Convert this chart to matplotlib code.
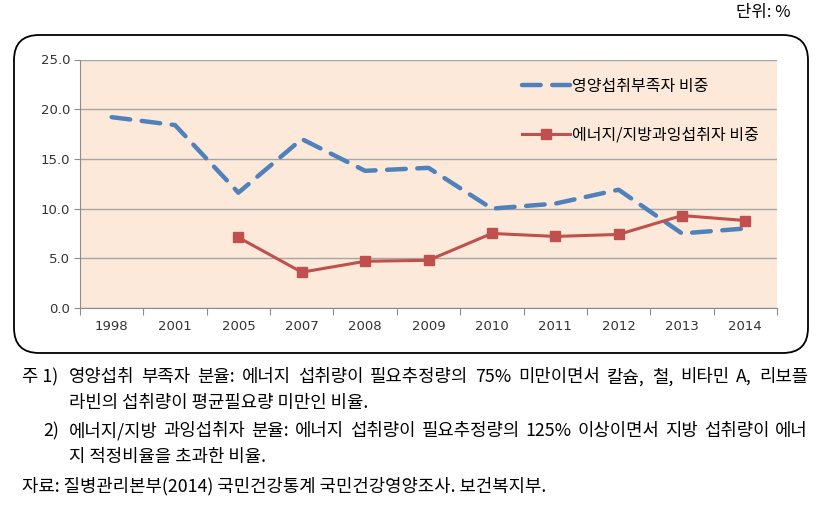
import matplotlib.pyplot as plt
import numpy as np
from matplotlib.patches import FancyBboxPatch

plt.rcParams['font.family'] = ['Noto Sans CJK KR', 'DejaVu Sans']

years = ['1998', '2001', '2005', '2007', '2008', '2009', '2010', '2011', '2012', '2013', '2014']
deficient = [19.2, 18.4, 11.6, 17.0, 13.8, 14.1, 10.0, 10.5, 11.9, 7.5, 8.0]
excess_years = ['2005', '2007', '2008', '2009', '2010', '2011', '2012', '2013', '2014']
excess = [7.1, 3.6, 4.7, 4.8, 7.5, 7.2, 7.4, 9.3, 8.8]
yticks = [0.0, 5.0, 10.0, 15.0, 20.0, 25.0]

label_def = '영양섭취부족자 비중'
label_exc = '에너지/지방과잉섭취자 비중'

# (prefix, prefix x, body, justify)
notes = [
    ('주 1)', 22, '영양섭취 부족자 분율: 에너지 섭취량이 필요추정량의 75% 미만이면서 칼슘, 철, 비타민 A, 리보플', True),
    ('', 22, '라빈의 섭취량이 평균필요량 미만인 비율.', False),
    ('2)', 43, '에너지/지방 과잉섭취자 분율: 에너지 섭취량이 필요추정량의 125% 이상이면서 지방 섭취량이 에너', True),
    ('', 22, '지 적정비율을 초과한 비율.', False),
]
source = '자료: 질병관리본부(2014) 국민건강통계 국민건강영양조사. 보건복지부.'

W, H = 838, 515
fig = plt.figure(figsize=(W / 100, H / 100), dpi=100)

# rounded frame around chart
box = FancyBboxPatch((14 / W, 1 - 353 / H), (808 - 14) / W, (353 - 35) / H,
                     boxstyle='round,pad=0,rounding_size=0.03',
                     transform=fig.transFigure, fc='none', ec='black', lw=1.3,
                     mutation_aspect=W / H, zorder=-1)
fig.patches.append(box)

ax = fig.add_axes([80 / W, 1 - 308 / H, (777 - 80) / W, (308 - 59.5) / H])
ax.set_facecolor('#FDE9D9')

x = np.arange(len(years))
xe = [years.index(y) for y in excess_years]

ax.plot(x, deficient, color='#4F81BD', lw=3.2, dashes=(4.2, 2.6),
        dash_capstyle='round', label=label_def, zorder=3)
ax.plot(xe, excess, color='#C0504D', lw=2.2, marker='s', ms=7.5,
        label=label_exc, zorder=4)

ax.set_xlim(-0.5, len(years) - 0.5)
ax.set_ylim(0, 25)
ax.set_yticks(yticks)
ax.set_yticklabels([f'{v:.1f}' for v in yticks], fontsize=9.5, color='#333333',
                   family=['DejaVu Sans'])
ax.yaxis.grid(True, color='#A6A6A6', lw=1)
ax.set_axisbelow(True)

ax.set_xticks(np.arange(-0.5, len(years), 1.0))
ax.set_xticklabels([])
ax.set_xticks(x, minor=True)
ax.set_xticklabels(years, minor=True, fontsize=9.5, color='#333333',
                   family=['DejaVu Sans'])
ax.tick_params(axis='x', which='major', length=5, color='#8C8C8C')
ax.tick_params(axis='x', which='minor', length=0, pad=9)
ax.tick_params(axis='y', length=4, color='#8C8C8C', pad=3)

for s in ['top', 'right']:
    ax.spines[s].set_visible(False)
for s in ['left', 'bottom']:
    ax.spines[s].set_color('#8C8C8C')

ax.legend(loc='upper right', bbox_to_anchor=(0.995, 0.985), frameon=False,
          fontsize=11.5, labelspacing=2.0, handlelength=3.0, handletextpad=0.15)

fig.text(790 / W, 1 - 12 / H, '단위: %', fontsize=12, ha='right', va='center')

# footnotes, justified like the original
fs = 12.8
renderer = fig.canvas.get_renderer()
ys = [377, 403, 431, 457, 486]
body_x0, body_x1 = 69, 808
for (pre, px, body, just), yy in zip(notes, ys):
    yf = 1 - yy / H
    if pre:
        fig.text(px / W, yf, pre, fontsize=fs, ha='left', va='center')
    if not just:
        fig.text(body_x0 / W, yf, body, fontsize=fs, ha='left', va='center')
        continue
    words = body.split(' ')
    texts = [fig.text(0, yf, w, fontsize=fs, ha='left', va='center') for w in words]
    widths = [t.get_window_extent(renderer).width for t in texts]
    gap = (body_x1 - body_x0 - sum(widths)) / (len(words) - 1)
    xc = body_x0
    for t, wd in zip(texts, widths):
        t.set_x(xc / W)
        xc += wd + gap
fig.text(22 / W, 1 - ys[-1] / H, source, fontsize=fs, ha='left', va='center')

fig.savefig('out.png', dpi=100)
